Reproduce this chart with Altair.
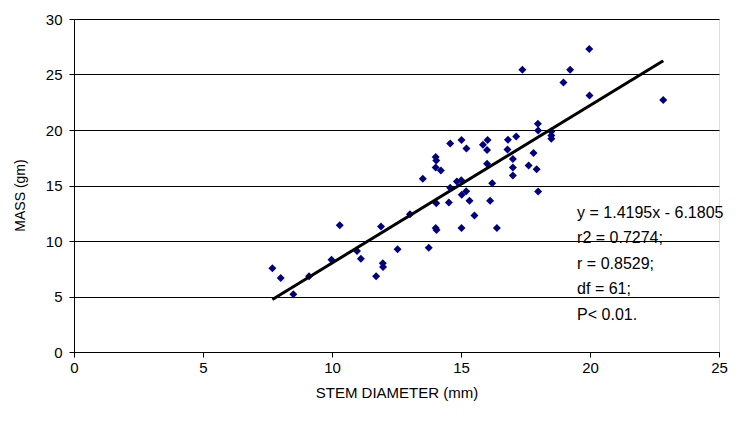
import altair as alt
import pandas as pd

# Stem diameter (mm) and mass (gm)
stem_diameter = [
    7.69, 8.01, 8.50, 9.11, 9.98, 10.30, 10.97, 11.12, 11.71, 11.97, 11.98, 11.90,
    12.54, 13.02, 13.52, 13.75,
    17.98, 17.99, 17.14, 16.82, 16.80, 17.01, 17.01, 17.01, 17.81, 17.62, 17.93, 17.99,
    16.03, 15.85, 16.01, 16.01, 15.02, 15.21, 14.58, 14.02, 14.04, 14.02, 14.22, 14.84,
    15.01, 14.58, 15.03, 15.20, 16.21, 14.04, 14.53, 15.33, 16.13, 15.52, 14.02, 14.05,
    15.02, 16.39,
    19.97, 19.23, 17.38, 18.97, 19.98, 22.84, 18.50, 18.50, 18.50,
]
mass = [
    7.55, 6.67, 5.20, 6.83, 8.30, 11.42, 9.11, 8.41, 6.83, 8.00, 7.66, 11.30,
    9.26, 12.42, 15.60, 9.40,
    20.56, 19.95, 19.41, 19.12, 18.24, 17.38, 16.62, 15.90, 17.92, 16.80, 16.47, 14.45,
    19.09, 18.67, 18.19, 16.95, 19.09, 18.33, 18.78, 17.56, 17.25, 16.62, 16.35, 15.36,
    15.48, 14.79, 14.16, 14.49, 15.21, 13.41, 13.46, 13.62, 13.62, 12.29, 11.18, 11.00,
    11.18, 11.18,
    27.30, 25.43, 25.43, 24.28, 23.11, 22.70, 19.86, 19.50, 19.21,
]

slope = 1.4195
intercept = -6.1805
stats_lines = [
    "y = 1.4195x - 6.1805",
    "r2 = 0.7274;",
    "r = 0.8529;",
    "df = 61;",
    "P< 0.01.",
]
x_ticks = [0, 5, 10, 15, 20, 25]
y_ticks = [0, 5, 10, 15, 20, 25, 30]

pts = pd.DataFrame({"d": stem_diameter, "m": mass})
x_min, x_max = min(stem_diameter), max(stem_diameter)
fit = pd.DataFrame({"d": [x_min, x_max],
                    "m": [slope * x_min + intercept, slope * x_max + intercept]})
ann = pd.DataFrame({"d": [19.5], "m": [12.53], "t": [stats_lines]})

FONT = "Liberation Sans"

xscale = alt.Scale(domain=[0, 25], nice=False)
yscale = alt.Scale(domain=[0, 30], nice=False)

xaxis = alt.Axis(values=x_ticks, grid=False, title="STEM DIAMETER (mm)",
                 titleFont=FONT, titleFontSize=15, titleFontWeight="normal",
                 titleY=40, titleBaseline="middle", titleColor="#000",
                 labelFont=FONT, labelFontSize=15, labelColor="#000", labelPadding=3,
                 tickSize=5, tickColor="#000", domainColor="#000", labelFlush=False)
yaxis = alt.Axis(values=y_ticks, grid=True, gridColor="#000", gridWidth=1,
                 title="MASS (gm)", titleFont=FONT, titleFontSize=14,
                 titleFontWeight="normal", titleColor="#000",
                 titleX=-54, titleY=176, titleAngle=-90, titleAlign="center",
                 titleBaseline="middle",
                 labelFont=FONT, labelFontSize=15, labelColor="#000", labelPadding=7,
                 tickSize=5, tickColor="#000", domainColor="#000")

points = alt.Chart(pts).mark_point(shape="diamond", filled=True, size=64,
                                   color="#000080", opacity=1).encode(
    x=alt.X("d:Q", scale=xscale, axis=xaxis),
    y=alt.Y("m:Q", scale=yscale, axis=yaxis),
)

line = alt.Chart(fit).mark_line(color="#000", strokeWidth=3).encode(
    x=alt.X("d:Q", scale=xscale),
    y=alt.Y("m:Q", scale=yscale),
)

text = alt.Chart(ann).mark_text(align="left", baseline="middle", font=FONT,
                                fontSize=16, lineHeight=25.5, color="#000").encode(
    x=alt.X("d:Q", scale=xscale),
    y=alt.Y("m:Q", scale=yscale),
    text="t",
)

chart = alt.layer(points, line, text).properties(
    width=645, height=333,
    autosize=alt.AutoSizeParams(type="none"),
    padding={"left": 66, "top": 11, "right": 12, "bottom": 60},
).configure_view(stroke=None).configure(background="white")

chart.save("out.html", embed_options={"renderer": "svg", "actions": False})
